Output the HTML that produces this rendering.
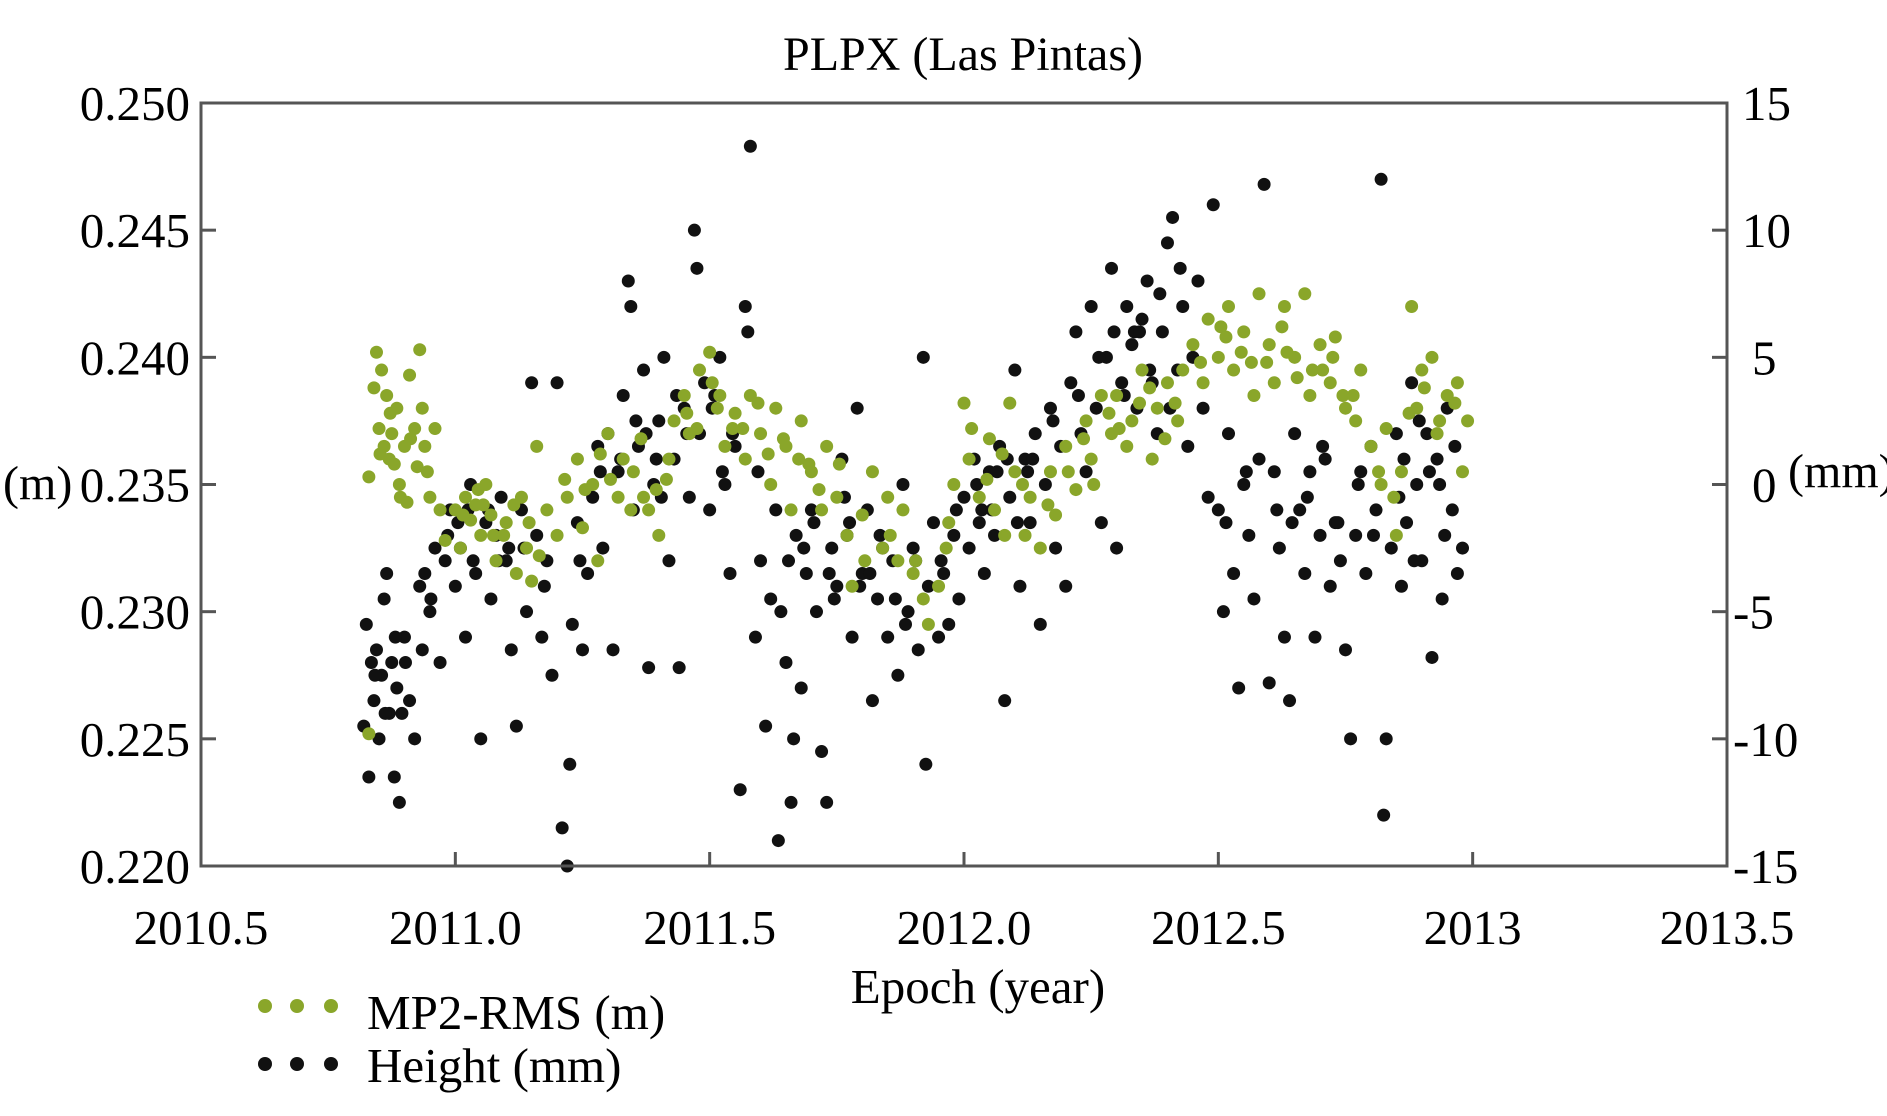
<!DOCTYPE html>
<html><head><meta charset="utf-8"><style>
html,body{margin:0;padding:0;background:#fff;}
svg{display:block;font-family:"Liberation Serif",serif;}
</style></head><body>
<svg id="chart" width="1887" height="1116" viewBox="0 0 1887 1116">
<rect x="0" y="0" width="1887" height="1116" fill="#fff"/>
<text x="963" y="70" font-size="48" text-anchor="middle">PLPX (Las Pintas)</text>
<g id="ticks"></g>
<g id="marks"></g>
<rect x="201" y="103" width="1526" height="763" fill="none" stroke="#555" stroke-width="3"/>
<text x="978" y="1003" font-size="49" text-anchor="middle">Epoch (year)</text>
<text x="3" y="499" font-size="48">(m)</text>
<text x="1788" y="487" font-size="48">(mm)</text>
<g>
<g>
<circle cx="265" cy="1006" r="7" fill="#8aa62a"/><circle cx="297" cy="1006" r="7" fill="#8aa62a"/><circle cx="331" cy="1006" r="7" fill="#8aa62a"/>
<text x="367" y="1029" font-size="49">MP2-RMS (m)</text></g>
<g>
<circle cx="265" cy="1064" r="7" fill="#111"/><circle cx="297" cy="1064" r="7" fill="#111"/><circle cx="331" cy="1064" r="7" fill="#111"/>
<text x="367" y="1082" font-size="49">Height (mm)</text></g>
</g>
</svg>
<script>
const xTickValues=[2010.5,2011.0,2011.5,2012.0,2012.5,2013,2013.5];
const xTickLabels=["2010.5","2011.0","2011.5","2012.0","2012.5","2013","2013.5"];
const leftTickValues=[0.250,0.245,0.240,0.235,0.230,0.225,0.220];
const leftTickLabels=["0.250","0.245","0.240","0.235","0.230","0.225","0.220"];
const rightTickValues=[15,10,5,0,-5,-10,-15];
const rightTickLabels=["15","10","5","0","-5","-10","-15"];
const greenYears=[2010.83,2010.84,2010.845,2010.85,2010.855,2010.86,2010.865,2010.87,2010.875,2010.88,2010.885,2010.89,2010.9,2010.905,2010.91,2010.92,2010.925,2010.93,2010.935,2010.94,2010.95,2010.96,2010.97,2010.98,2011.0,2011.01,2011.02,2011.03,2011.04,2011.05,2011.06,2011.07,2011.08,2011.1,2011.12,2011.13,2011.14,2011.15,2011.16,2011.18,2011.2,2011.22,2011.24,2011.25,2011.27,2011.28,2011.3,2011.32,2011.33,2011.35,2011.37,2011.38,2011.4,2011.42,2011.43,2011.45,2011.46,2011.48,2011.5,2011.52,2011.53,2011.55,2011.57,2011.58,2011.6,2011.62,2011.63,2011.65,2011.66,2011.68,2011.7,2011.72,2011.73,2011.75,2011.77,2011.78,2011.8,2011.82,2011.84,2011.85,2011.87,2011.88,2011.9,2011.92,2011.93,2011.95,2011.97,2011.98,2012.0,2012.01,2012.03,2012.05,2012.06,2012.08,2012.09,2012.1,2012.12,2012.13,2012.15,2012.17,2012.18,2012.2,2012.22,2012.24,2012.25,2012.27,2012.29,2012.3,2012.32,2012.33,2012.35,2012.37,2012.38,2012.4,2012.42,2012.43,2012.45,2012.47,2012.48,2012.5,2012.52,2012.53,2012.55,2012.57,2012.58,2012.6,2012.61,2012.63,2012.65,2012.67,2012.68,2012.7,2012.72,2012.73,2012.75,2012.77,2012.78,2012.8,2012.82,2012.83,2012.85,2012.86,2012.88,2012.89,2012.9,2012.92,2012.93,2012.95,2012.97,2012.98,2012.99,2010.83,
2011.455,2011.505,2011.545,2011.595,2011.645,2011.695,2012.505,2012.545,2012.595,2012.625,2012.655,2012.705,2012.745,2012.255,2012.305,2012.345,2012.395,2011.255,2011.305,2011.345,2011.395,2011.055,2011.095,2011.145,
2010.852,2010.872,2010.892,2010.912,2010.945,2011.015,2011.045,2011.075,2011.115,2011.165,2011.215,2011.285,2011.365,2011.415,2011.475,2011.515,2011.565,2011.615,2011.675,2011.715,2011.755,2011.805,2011.855,2011.905,2011.965,2012.015,2012.045,2012.075,2012.115,2012.165,2012.205,2012.235,2012.285,2012.365,2012.415,2012.465,2012.515,2012.565,2012.635,2012.685,2012.725,2012.765,2012.815,2012.845,2012.875,2012.905,2012.935,2012.965];
const greenValues=[0.2353,0.2388,0.2402,0.2372,0.2395,0.2365,0.2385,0.2360,0.2370,0.2358,0.2380,0.2350,0.2365,0.2343,0.2393,0.2372,0.2357,0.2403,0.2380,0.2365,0.2345,0.2372,0.2340,0.2328,0.2340,0.2325,0.2345,0.2336,0.2342,0.2330,0.2350,0.2338,0.2320,0.2335,0.2315,0.2345,0.2325,0.2312,0.2365,0.2340,0.2330,0.2345,0.2360,0.2333,0.2350,0.2320,0.2370,0.2345,0.2360,0.2355,0.2345,0.2340,0.2330,0.2360,0.2375,0.2385,0.2370,0.2395,0.2402,0.2385,0.2365,0.2378,0.2360,0.2385,0.2370,0.2350,0.2380,0.2365,0.2340,0.2375,0.2355,0.2340,0.2365,0.2345,0.2330,0.2310,0.2338,0.2355,0.2325,0.2345,0.2320,0.2340,0.2315,0.2305,0.2295,0.2310,0.2335,0.2350,0.2382,0.2360,0.2345,0.2368,0.2340,0.2330,0.2382,0.2355,0.2330,0.2345,0.2325,0.2355,0.2338,0.2365,0.2348,0.2375,0.2360,0.2385,0.2370,0.2385,0.2365,0.2375,0.2395,0.2360,0.2380,0.2390,0.2375,0.2395,0.2405,0.2390,0.2415,0.2400,0.2420,0.2395,0.2410,0.2385,0.2425,0.2405,0.2390,0.2420,0.2400,0.2425,0.2385,0.2405,0.2390,0.2408,0.2380,0.2375,0.2395,0.2365,0.2350,0.2372,0.2330,0.2355,0.2420,0.2380,0.2395,0.2400,0.2370,0.2385,0.2390,0.2355,0.2375,0.2252,
0.2378,0.2390,0.2372,0.2382,0.2368,0.2358,0.2412,0.2402,0.2398,0.2412,0.2392,0.2395,0.2385,0.2350,0.2372,0.2382,0.2368,0.2348,0.2352,0.2340,0.2348,0.2342,0.2330,0.2335,
0.2362,0.2378,0.2345,0.2368,0.2355,0.2338,0.2348,0.2330,0.2342,0.2322,0.2352,0.2362,0.2368,0.2352,0.2372,0.2380,0.2372,0.2362,0.2360,0.2348,0.2358,0.2320,0.2330,0.2320,0.2325,0.2372,0.2352,0.2362,0.2350,0.2342,0.2355,0.2368,0.2378,0.2388,0.2382,0.2398,0.2408,0.2398,0.2402,0.2395,0.2400,0.2385,0.2355,0.2345,0.2378,0.2388,0.2375,0.2382];
const heightYears=[2010.82,2010.825,2010.83,2010.835,2010.84,2010.845,2010.85,2010.855,2010.86,2010.865,2010.87,2010.875,2010.88,2010.885,2010.89,2010.895,2010.9,2010.91,2010.92,2010.93,2010.935,2010.94,2010.95,2010.96,2010.97,2010.98,2010.99,2011.0,2011.01,2011.02,2011.03,2011.04,2011.05,2011.06,2011.07,2011.08,2011.09,2011.1,2011.11,2011.12,2011.13,2011.14,2011.15,2011.16,2011.17,2011.18,2011.19,2011.2,2011.21,2011.22,2011.225,2011.23,2011.24,2011.25,2011.26,2011.27,2011.28,2011.29,2011.3,2011.31,2011.32,2011.33,2011.34,2011.345,2011.35,2011.36,2011.37,2011.38,2011.39,2011.4,2011.41,2011.42,2011.43,2011.44,2011.45,2011.46,2011.47,2011.475,2011.48,2011.49,2011.5,2011.51,2011.52,2011.53,2011.54,2011.55,2011.56,2011.57,2011.575,2011.58,2011.59,2011.6,2011.61,2011.62,2011.63,2011.635,2011.64,2011.65,2011.66,2011.665,2011.67,2011.68,2011.69,2011.7,2011.71,2011.72,2011.73,2011.74,2011.75,2011.76,2011.77,2011.78,2011.79,2011.8,2011.81,2011.82,2011.83,2011.84,2011.85,2011.86,2011.87,2011.88,2011.89,2011.9,2011.91,2011.92,2011.925,2011.93,2011.94,2011.95,2011.96,2011.97,2011.98,2011.99,2012.0,2012.01,2012.02,2012.03,2012.04,2012.05,2012.06,2012.07,2012.08,2012.09,2012.1,2012.11,2012.12,2012.13,2012.14,2012.15,2012.16,2012.17,2012.18,2012.19,2012.2,2012.21,2012.22,2012.23,2012.24,2012.25,2012.26,2012.27,2012.28,2012.29,2012.3,2012.31,2012.32,2012.33,2012.34,2012.35,2012.36,2012.37,2012.38,2012.39,2012.4,2012.41,2012.42,2012.43,2012.44,2012.45,2012.46,2012.47,2012.48,2012.49,2012.5,2012.51,2012.52,2012.53,2012.54,2012.55,2012.56,2012.57,2012.58,2012.59,2012.6,2012.61,2012.62,2012.63,2012.64,2012.65,2012.66,2012.67,2012.68,2012.69,2012.7,2012.71,2012.72,2012.73,2012.74,2012.75,2012.76,2012.77,2012.78,2012.79,2012.8,2012.81,2012.82,2012.825,2012.83,2012.84,2012.85,2012.86,2012.87,2012.88,2012.89,2012.9,2012.91,2012.92,2012.93,2012.94,2012.95,2012.96,2012.97,2012.98,
2011.005,2011.035,2011.065,2011.105,2011.375,2011.405,2011.435,2011.525,2011.705,2011.735,2011.765,2011.795,2011.835,2011.865,2011.905,2012.035,2012.065,2012.105,2012.135,2012.315,2012.335,2012.365,2012.405,2012.645,2012.675,2012.705,2012.855,2012.885,2012.915,2012.945,
2010.842,2010.862,2010.882,2010.902,2010.952,2010.985,2011.025,2011.085,2011.135,2011.175,2011.245,2011.285,2011.325,2011.355,2011.395,2011.455,2011.505,2011.545,2011.595,2011.655,2011.685,2011.745,2011.775,2011.815,2011.885,2011.955,2011.985,2012.025,2012.055,2012.085,2012.125,2012.175,2012.225,2012.265,2012.295,2012.345,2012.385,2012.425,2012.515,2012.555,2012.615,2012.735,2012.775,2012.805,2012.865,2012.895,2012.935,2012.965];
const heightValues=[-9.5,-5.5,-11.5,-7,-8.5,-6.5,-10,-7.5,-4.5,-3.5,-9,-7,-11.5,-8,-12.5,-9,-6,-8.5,-10,-4,-6.5,-3.5,-5,-2.5,-7,-3,-1,-4,-2.5,-6,0,-3.5,-10,-1.5,-4.5,-2,-0.5,-3,-6.5,-9.5,-1,-5,4,-2,-6,-3,-7.5,4,-13.5,-15,-11,-5.5,-1.5,-6.5,-3.5,-0.5,1.5,-2.5,2,-6.5,0.5,3.5,8,7,-1,1.5,4.5,-7.2,0,2.5,5,-3,1,-7.2,3,-0.5,10,8.5,2,4,-1,3.5,5,0,-3.5,1.5,-12,7,6,13.3,-6,-3,-9.5,-4.5,-1,-14,-5,-7,-12.5,-10,-2,-8,-3.5,-1,-5,-10.5,-12.5,-2.5,-4,1,-2,-6,3,-3.5,-1,-8.5,-4.5,-2.5,-6,-3,-7.5,0,-5,-2.5,-6.5,5,-11,-4,-1.5,-6,-3.5,-5.5,-2,-4.5,-0.5,-2.5,1,-1.5,-3.5,0.5,-2,1.5,-8.5,-0.5,4.5,-4,1,-1.5,2,-5.5,0,3,-2.5,1.5,-4,4,6,2,0.5,7,3,-1.5,5,8.5,-2.5,4,7,5.5,3,6.5,8,4,2,6,9.5,10.5,4.5,7,1.5,5,8,3,-0.5,11,-1,-5,2,-3.5,-8,0,-2,-4.5,1,11.8,-7.8,0.5,-2.5,-6,-8.5,2,-1,-3.5,0.5,-6,-2,1,-4,-1.5,-3,-6.5,-10,-2,0.5,-3.5,1.5,-1,12,-13,-10,-2.5,2,-4,-1.5,4,0,-3,2,-6.8,1,-4.5,3,-1,-3.5,-2.5,
-1.5,-3,-1,-2.5,2,-0.5,3.5,0.5,-1.5,-3.5,-0.5,-4,-2,-4.5,-3,-1,0.5,-1.5,1,3.5,6,4.5,3,-1.5,-0.5,1.5,-0.5,-3,0.5,-2,
-7.5,-9,-6,-7,-4.5,-2,-1,-3,-2.5,-4,-3,0.5,1,2.5,1,2,3,2,0.5,-3,-2.5,-4.5,-1.5,-3.5,-5.5,-3,-1,0,-1,1,0.5,2.5,3.5,5,6,6,7.5,8.5,-1.5,0.5,-1,-1.5,0,-2,1,2.5,0,1.5];
const X0=201,X1=1727,Y0=103,Y1=866;
function xScale(yr){return X0+(yr-2010.5)/3*(X1-X0);}
function yScaleMM(mm){return Y0+(15-mm)/30*(Y1-Y0);}
function yScaleM(m){return Y0+(0.250-m)/0.030*(Y1-Y0);}
const NS="http://www.w3.org/2000/svg";
const ticks=document.getElementById('ticks'),marks=document.getElementById('marks');
function mk(tag,attrs,parent){const e=document.createElementNS(NS,tag);for(const k in attrs)e.setAttribute(k,attrs[k]);parent.appendChild(e);return e;}
xTickValues.forEach((v,i)=>{const x=xScale(v);
 if(i>0&&i<xTickValues.length-1){const t=mk('line',{x1:x,x2:x,y1:Y1,y2:Y1-14,stroke:'#555','stroke-width':3},ticks);
 
 }
 const l=mk('text',{x:x,y:944,'font-size':49,'text-anchor':'middle'},ticks);l.textContent=xTickLabels[i];
 
 });
leftTickValues.forEach((v,i)=>{const y=yScaleM(v);
 const t=mk('line',{x1:X0,x2:X0+15,y1:y,y2:y,stroke:'#555','stroke-width':3},ticks);
 
 
 const l=mk('text',{x:190,y:y+17,'font-size':49,'text-anchor':'end'},ticks);l.textContent=leftTickLabels[i];
 
 });
rightTickValues.forEach((v,i)=>{const y=yScaleMM(v);
 const t=mk('line',{x1:X1-15,x2:X1,y1:y,y2:y,stroke:'#555','stroke-width':3},ticks);
 
 
 const lx=(v===0||v===5)?1752:(v<0?1733:1742);
 const l=mk('text',{x:lx,y:y+17,'font-size':49},ticks);l.textContent=rightTickLabels[i];
 
 });
heightYears.forEach((yr,i)=>{const c=mk('circle',{cx:xScale(yr),cy:yScaleMM(heightValues[i]),r:6.5,fill:'#111'},marks);
 
 });
greenYears.forEach((yr,i)=>{const c=mk('circle',{cx:xScale(yr),cy:yScaleM(greenValues[i]),r:6.5,fill:'#8aa62a'},marks);
 
 });
</script>
</body></html>
